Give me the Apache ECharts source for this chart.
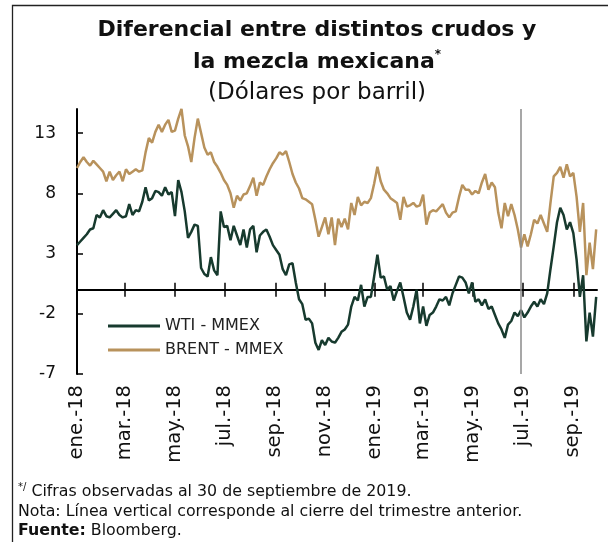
<!DOCTYPE html>
<html><head><meta charset="utf-8">
<script src="https://cdn.jsdelivr.net/npm/echarts@6/dist/echarts.min.js"></script>
<style>html,body{margin:0;padding:0;background:#fff}#c{width:608px;height:542px}</style>
</head><body><div id="c"></div>
<script>
const dates = [
'2018-01-01','2018-01-05','2018-01-09','2018-01-13','2018-01-17','2018-01-21','2018-01-25','2018-01-29',
'2018-02-02','2018-02-06','2018-02-10','2018-02-14','2018-02-18','2018-02-22','2018-02-26',
'2018-03-02','2018-03-06','2018-03-10','2018-03-14','2018-03-18','2018-03-22','2018-03-26','2018-03-30',
'2018-04-03','2018-04-07','2018-04-11','2018-04-15','2018-04-19','2018-04-23','2018-04-27',
'2018-05-01','2018-05-05','2018-05-09','2018-05-13','2018-05-17','2018-05-21','2018-05-25','2018-05-29',
'2018-06-02','2018-06-06','2018-06-10','2018-06-14','2018-06-18','2018-06-22','2018-06-26','2018-06-30',
'2018-07-04','2018-07-08','2018-07-12','2018-07-16','2018-07-20','2018-07-24','2018-07-28',
'2018-08-01','2018-08-05','2018-08-09','2018-08-13','2018-08-17','2018-08-21','2018-08-25','2018-08-29',
'2018-09-02','2018-09-06','2018-09-10','2018-09-14','2018-09-18','2018-09-22','2018-09-26','2018-09-30',
'2018-10-04','2018-10-08','2018-10-12','2018-10-16','2018-10-20','2018-10-24','2018-10-28',
'2018-11-01','2018-11-05','2018-11-09','2018-11-13','2018-11-17','2018-11-21','2018-11-25','2018-11-29',
'2018-12-03','2018-12-07','2018-12-11','2018-12-15','2018-12-19','2018-12-23','2018-12-27','2018-12-31',
'2019-01-04','2019-01-08','2019-01-12','2019-01-16','2019-01-20','2019-01-24','2019-01-28',
'2019-02-01','2019-02-05','2019-02-09','2019-02-13','2019-02-17','2019-02-21','2019-02-25',
'2019-03-01','2019-03-05','2019-03-09','2019-03-13','2019-03-17','2019-03-21','2019-03-25','2019-03-29',
'2019-04-02','2019-04-06','2019-04-10','2019-04-14','2019-04-18','2019-04-22','2019-04-26','2019-04-30',
'2019-05-04','2019-05-08','2019-05-12','2019-05-16','2019-05-20','2019-05-24','2019-05-28',
'2019-06-01','2019-06-05','2019-06-09','2019-06-13','2019-06-17','2019-06-21','2019-06-25','2019-06-29',
'2019-07-03','2019-07-07','2019-07-11','2019-07-15','2019-07-19','2019-07-23','2019-07-27','2019-07-31',
'2019-08-04','2019-08-08','2019-08-12','2019-08-16','2019-08-20','2019-08-24','2019-08-28',
'2019-09-01','2019-09-05','2019-09-09','2019-09-13','2019-09-17','2019-09-21','2019-09-25','2019-09-29'
];
const wtiValues = [
3.7, 4.0, 4.3, 4.6, 5.0, 5.1, 6.2, 6.0, 6.6, 6.1,
6.0, 6.3, 6.6, 6.2, 6.0, 6.1, 7.1, 6.2, 6.6, 6.5,
7.3, 8.5, 7.4, 7.6, 8.2, 8.1, 7.8, 8.5, 7.9, 8.1,
6.1, 9.1, 8.1, 6.5, 4.3, 4.8, 5.4, 5.3, 1.8, 1.3,
1.1, 2.7, 1.6, 1.2, 6.5, 5.2, 5.3, 4.1, 5.3, 4.5,
3.7, 5.0, 3.5, 5.0, 5.3, 3.1, 4.5, 4.8, 5.0, 4.4,
3.7, 3.3, 2.9, 1.7, 1.2, 2.1, 2.2, 0.6, -0.8, -1.2,
-2.5, -2.4, -2.8, -4.4, -5.0, -4.2, -4.6, -4.0, -4.3, -4.4,
-4.0, -3.5, -3.3, -2.9, -1.4, -0.6, -0.9, 0.4, -1.4, -0.6,
-0.6, 1.1, 2.9, 1.0, 1.1, 0.0, 0.3, -0.9, -0.1, 0.6,
-0.6, -1.9, -2.5, -1.4, 0.0, -2.8, -1.4, -3.0, -2.1, -1.9,
-1.4, -0.8, -0.9, -0.6, -1.3, -0.3, 0.4, 1.1, 1.0, 0.6,
-0.3, 0.6, -1.0, -0.8, -1.3, -0.8, -1.6, -1.4, -2.1, -2.8,
-3.3, -4.0, -2.9, -2.6, -1.9, -2.2, -1.7, -2.3, -1.9, -1.4,
-1.0, -1.4, -0.8, -1.2, -0.3, 1.7, 3.6, 5.6, 6.8, 6.2,
5.0, 5.6, 4.7, 2.5, -0.6, 1.2, -4.3, -1.9, -3.9, -0.6
];
const brentValues = [
10.1, 10.6, 11.0, 10.6, 10.3, 10.7, 10.4, 10.1, 9.8, 9.0,
9.8, 9.1, 9.5, 9.8, 9.0, 10.0, 9.6, 9.8, 10.0, 9.8,
9.9, 11.4, 12.6, 12.2, 13.1, 13.7, 13.1, 13.7, 14.1, 13.1,
13.2, 14.2, 15.0, 12.8, 11.9, 10.6, 12.6, 14.2, 13.0, 11.8,
11.2, 11.4, 10.6, 10.2, 9.7, 9.1, 8.7, 8.0, 6.8, 7.8,
7.4, 7.9, 8.0, 8.6, 9.3, 7.8, 8.9, 8.7, 9.4, 10.0,
10.5, 10.9, 11.4, 11.2, 11.5, 10.6, 9.6, 8.9, 8.4, 7.6,
7.5, 7.3, 7.1, 5.8, 4.4, 5.2, 6.0, 4.6, 6.0, 3.7,
5.9, 5.2, 5.9, 5.0, 7.2, 6.2, 7.7, 7.0, 7.3, 7.2,
7.6, 8.8, 10.2, 9.0, 8.3, 8.0, 7.6, 7.4, 7.2, 5.8,
7.7, 6.9, 7.0, 7.2, 6.9, 7.0, 7.9, 5.4, 6.4, 6.6,
6.5, 6.8, 7.1, 6.4, 6.0, 6.4, 6.5, 7.7, 8.7, 8.3,
8.3, 7.9, 8.2, 8.0, 8.9, 9.6, 8.3, 8.9, 8.5, 6.4,
5.1, 7.2, 6.1, 7.1, 6.2, 5.0, 3.5, 4.6, 3.6, 4.6,
5.8, 5.5, 6.2, 5.5, 4.8, 7.2, 9.4, 9.7, 10.2, 9.3,
10.4, 9.4, 9.7, 7.7, 4.8, 7.2, 1.2, 3.9, 1.7, 5.0
];
const seriesNames = ['WTI - MMEX', 'BRENT - MMEX'];
const tickDates = ['2018-01-01','2018-03-01','2018-05-01','2018-07-01','2018-09-01','2018-11-01','2019-01-01','2019-03-01','2019-05-01','2019-07-01','2019-09-01'];
const tickLabels = ['ene.-18','mar.-18','may.-18','jul.-18','sep.-18','nov.-18','ene.-19','mar.-19','may.-19','jul.-19','sep.-19'];
const yTicks = [-7, -2, 3, 8, 13];
const quarterClose = '2019-06-28';

const FONT = 'DejaVu Sans';
const WTI_COLOR = '#173a2e';
const BRENT_COLOR = '#b8925c';
const toTs = s => echarts.time.parse(s).getTime();
const tickTs = tickDates.map(toTs);
const labelFor = v => {
  const i = tickTs.findIndex(t => Math.abs(t - v) < 43200000);
  return i >= 0 ? tickLabels[i] : '';
};

const chart = echarts.init(document.getElementById('c'));
const xBase = { type: 'value', gridIndex: 0, min: toTs('2018-01-01'), max: toTs('2019-09-30'), splitLine: { show: false } };
const axisLineStyle = { color: '#000', width: 2 };
const tickStyle = { color: '#000', width: 1.5 };
const option = {
  animation: false,
  textStyle: { fontFamily: FONT },
  grid: { left: 77, top: 109, width: 520, height: 265 },
  xAxis: [
    Object.assign({}, xBase, {
      position: 'bottom',
      axisLine: { show: true, onZero: true, onZeroAxisIndex: 0, lineStyle: axisLineStyle },
      axisTick: { show: true, inside: true, length: 7, customValues: tickTs, lineStyle: tickStyle },
      axisLabel: { show: false }
    }),
    Object.assign({}, xBase, {
      position: 'bottom',
      axisLine: { show: false, onZero: true, onZeroAxisIndex: 0 },
      axisTick: { show: true, inside: false, length: 7, customValues: tickTs, lineStyle: tickStyle },
      axisLabel: { show: false }
    }),
    Object.assign({}, xBase, {
      position: 'bottom',
      axisLine: { show: false, onZero: false },
      axisTick: { show: false },
      axisLabel: { show: true, rotate: 90, margin: 11, customValues: tickTs, formatter: v => labelFor(v),
        fontSize: 19.5, color: '#111', fontFamily: FONT }
    })
  ],
  yAxis: {
    type: 'value', min: -7, max: 15,
    axisLine: { show: true, onZero: false, lineStyle: axisLineStyle },
    axisTick: { show: true, inside: true, length: 6, customValues: yTicks, lineStyle: tickStyle },
    axisLabel: { customValues: yTicks, fontSize: 17, color: '#111', margin: 21, fontFamily: FONT },
    splitLine: { show: false }
  },
  legend: {
    left: 108, top: 318, padding: 0, orient: 'vertical', itemWidth: 52, itemHeight: 3, itemGap: 8, icon: 'rect',
    textStyle: { fontSize: 16, color: '#222', fontFamily: FONT },
    data: seriesNames
  },
  series: [
    {
      name: seriesNames[1], type: 'line', xAxisIndex: 0, yAxisIndex: 0,
      data: dates.map((d, i) => [toTs(d), brentValues[i]]),
      symbol: 'none', showSymbol: false,
      lineStyle: { color: BRENT_COLOR, width: 2.5 }, itemStyle: { color: BRENT_COLOR }, z: 2,
      markLine: {
        silent: true, symbol: 'none', label: { show: false },
        lineStyle: { color: '#8a8a8a', width: 1.5, type: 'solid' },
        data: [{ xAxis: toTs(quarterClose) }]
      }
    },
    {
      name: seriesNames[0], type: 'line', xAxisIndex: 0, yAxisIndex: 0,
      data: dates.map((d, i) => [toTs(d), wtiValues[i]]),
      symbol: 'none', showSymbol: false,
      lineStyle: { color: WTI_COLOR, width: 2.5 }, itemStyle: { color: WTI_COLOR }, z: 3
    }
  ],
  graphic: [
    { type: 'rect', silent: true, shape: { x: 12.5, y: 5.5, width: 700, height: 600 },
      style: { fill: null, stroke: '#222', lineWidth: 1.3 } },
    { type: 'text', x: 317, y: 30, style: { text: 'Diferencial entre distintos crudos y',
      fontFamily: FONT, fontSize: 22, fontWeight: 'bold', fill: '#111', align: 'center', verticalAlign: 'middle' } },
    { type: 'text', x: 317, y: 62, style: { text: '{b|la mezcla mexicana}{s|*}',
      align: 'center', verticalAlign: 'middle',
      rich: {
        b: { fontFamily: FONT, fontSize: 22, fontWeight: 'bold', fill: '#111', lineHeight: 26 },
        s: { fontFamily: FONT, fontSize: 12, fontWeight: 'bold', fill: '#111', verticalAlign: 'top', lineHeight: 26 }
      } } },
    { type: 'text', x: 317, y: 93, style: { text: '(Dólares por barril)',
      fontFamily: FONT, fontSize: 23, fill: '#111', align: 'center', verticalAlign: 'middle' } },
    { type: 'text', x: 18, y: 492, style: { text: '{s|*/}{n| Cifras observadas al 30 de septiembre de 2019.}',
      align: 'left', verticalAlign: 'middle',
      rich: {
        s: { fontFamily: FONT, fontSize: 10, fill: '#111', verticalAlign: 'top', lineHeight: 19 },
        n: { fontFamily: FONT, fontSize: 15.8, fill: '#111', lineHeight: 19 }
      } } },
    { type: 'text', x: 18, y: 512, style: { text: 'Nota: Línea vertical corresponde al cierre del trimestre anterior.',
      fontFamily: FONT, fontSize: 15.8, fill: '#111', align: 'left', verticalAlign: 'middle' } },
    { type: 'text', x: 18, y: 531, style: { text: '{b|Fuente:}{n| Bloomberg.}',
      align: 'left', verticalAlign: 'middle',
      rich: {
        b: { fontFamily: FONT, fontSize: 15.8, fontWeight: 'bold', fill: '#111' },
        n: { fontFamily: FONT, fontSize: 15.8, fill: '#111' }
      } } }
  ]
};
chart.setOption(option);
</script>
</body></html>
